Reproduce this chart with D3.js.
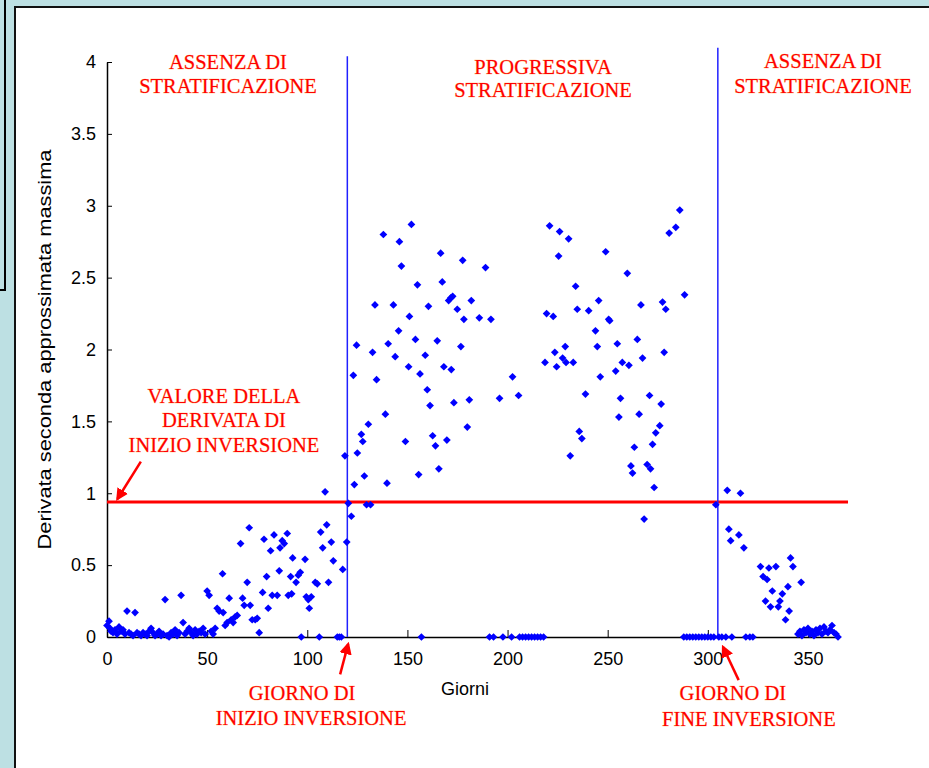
<!DOCTYPE html>
<html>
<head>
<meta charset="utf-8">
<script src="https://cdn.jsdelivr.net/npm/d3@7"></script>
<style>
  body { margin: 0; background: #bde0e3; }
  .axis text { font-family: "Liberation Sans", Arial, sans-serif; font-size: 18px; fill: #000; }
  .axis path, .axis line { stroke: #000; }
  .note { font-family: "Liberation Serif", "Times New Roman", serif; font-size: 20.5px; fill: #ff0000;
          stroke: #ffc080; stroke-width: 0.6px; paint-order: stroke; text-anchor: middle; }
</style>
</head>
<body>
<script>
// Data: day of the year and approximate max second derivative
const days = [
  0, 1, 1.5, 2, 3, 4, 5, 6, 7, 8, 9, 10, 11, 12, 13, 14, 15, 16, 17, 18, 19, 20, 21, 22, 23, 24, 25, 26, 27, 28,
  29, 30, 31, 32, 33, 34, 35, 36, 37, 38, 39, 40, 41, 42, 43, 44, 45, 46, 47, 48, 49, 50, 51, 52, 53, 54,
  55, 56, 57.7, 58, 59, 60, 61, 62, 63, 64, 65, 66.7, 67.7, 68.5, 70, 71, 71.5, 72.5, 74, 75, 76, 77.7, 78.4, 79.7,
  80.5, 81.7, 82.5, 83.4, 85, 86, 86.4, 87.5, 88.5, 90, 90.5, 91.7, 92.2, 92.7, 94.4, 95.5, 96.5, 97, 98.9, 99.5,
  100.5, 101, 102, 104, 105, 106, 106.7, 107.7, 108.9, 109.7, 110.6, 112, 113, 115, 116, 117, 117.7, 118.8, 119.7, 120.5,
  122, 123, 123.5, 124.6, 125, 127, 127.7, 128.5, 129.6, 131.6, 130.5, 132.6, 133.8, 134.6, 138, 139, 139.8, 140.4, 143, 143.9,
  145.6, 146, 147, 149, 150.6, 151, 152, 154, 155, 155.6, 156.3, 157, 158.9, 159.9, 160.5, 161.3, 162.6, 164, 164.9, 165.7,
  166.6, 167.4, 168.2, 169.7, 170.6, 171.7, 171.9, 172.6, 173.2, 174.9, 176.7, 177.6, 178.2, 179.9, 180.9, 181.9, 185.9, 189, 191, 191.7,
  193, 196, 197.7, 202, 202.5, 205.5, 206, 207.5, 209, 210.5, 212, 213.5, 215, 216.5, 218,
  218.7, 219.5, 221, 222.8, 223.6, 224.5, 225.5, 226, 227.5, 228.8, 229.2, 230.5, 231.3, 232.8, 234, 234.8, 235.8, 237.1, 238.9, 240.5,
  243.9, 244.8, 245.5, 246.3, 249, 250.5, 251, 254, 254.8, 255.6, 256.4, 257.3, 259.8, 260.6, 261.6, 262.4, 263.3, 264.8, 265.7, 266.6,
  267.4, 268.2, 269.7, 270.9, 271.4, 272.4, 273.2, 274, 276, 276.7, 277.4, 278.2, 279, 280.7, 284, 286, 288.4,
  288, 289.5, 291, 292.5, 294, 295.5, 297, 298.5, 300, 301.5, 303, 304,
  305.5, 307, 309, 309.7, 310.5, 311.4, 312, 315.5, 316.3, 318, 319, 321, 322.5, 326.3, 327.6, 328.8, 329.6, 330.5, 331.3, 332.2,
  334, 335.2, 336, 337.2, 338.8, 340, 340.6, 341.3, 342.5, 346.6,
  345, 346, 347, 348, 349, 350, 351, 352, 353, 354, 355, 356, 357, 358, 359, 360, 361, 362, 363, 364, 365
];
const values = [
  0.08, 0.11, 0.06, 0.04, 0.03, 0.05, 0.02, 0.07, 0.04, 0.05, 0.02, 0.18, 0.03, 0.02, 0.01, 0.17, 0.03, 0.02, 0.01, 0.03, 0.02, 0.01, 0.04, 0.06, 0.03, 0.01, 0.02, 0.04, 0.01, 0.02,
  0.26, 0.01, 0.0, 0.03, 0.02, 0.05, 0.01, 0.03, 0.29, 0.10, 0.02, 0.04, 0.06, 0.03, 0.01, 0.05, 0.02, 0.04, 0.03, 0.06, 0.02, 0.32, 0.29, 0.04, 0.02, 0.06,
  0.20, 0.18, 0.44, 0.17, 0.08, 0.10, 0.27, 0.12, 0.10, 0.14, 0.15, 0.65, 0.27, 0.22, 0.38, 0.76, 0.22, 0.12, 0.12, 0.13, 0.03, 0.31, 0.68, 0.42,
  0.20, 0.60, 0.29, 0.71, 0.29, 0.46, 0.62, 0.67, 0.65, 0.72, 0.29, 0.42, 0.30, 0.55, 0.38, 0.43, 0.45, 0.0, 0.54, 0.28,
  0.26, 0.20, 0.28, 0.38, 0.37, 0.0, 0.73, 0.62, 1.01, 0.78, 0.38, 0.66, 0.53, 0.0, 0.0, 0.0, 0.47, 1.26, 0.66, 0.93,
  0.84, 1.82, 1.06, 2.03, 1.28, 1.41, 1.36, 1.12, 0.92, 0.92, 1.48, 1.98, 2.31, 1.79, 2.80, 1.55, 1.07, 2.04, 2.31, 1.95,
  2.13, 2.75, 2.58, 1.36, 1.88, 2.23, 2.87, 2.07, 2.45, 1.13, 1.83, 0.0, 1.96, 1.72, 2.30, 1.61, 1.40, 1.33, 2.06, 1.17,
  2.67, 2.47, 1.88, 1.37, 2.34, 2.36, 1.86, 2.37, 1.63, 2.28, 2.02, 2.62, 2.21, 1.46, 1.65, 2.34, 2.22, 2.57, 0.0, 2.21,
  0.0, 1.66, 0.0, 0.0, 1.81, 1.68, 0.0, 0.0, 0.0, 0.0, 0.0, 0.0, 0.0, 0.0, 0.0,
  1.91, 2.25, 2.86, 2.23, 1.98, 1.88, 2.65, 2.82, 1.94, 2.02, 1.91, 2.77, 1.26, 1.91, 2.44, 2.28, 1.43, 1.38, 1.69, 2.27,
  2.13, 2.02, 2.34, 1.81, 2.68, 2.21, 2.20, 1.85, 2.04, 1.53, 1.66, 1.91, 2.53, 1.89, 1.19, 1.14, 1.32, 2.07, 1.55, 2.31,
  1.94, 0.82, 1.20, 1.68, 1.17, 1.34, 1.04, 1.42, 1.47, 1.62, 2.33, 1.98, 2.28, 2.81, 2.85, 2.97, 2.38,
  0.0, 0.0, 0.0, 0.0, 0.0, 0.0, 0.0, 0.0, 0.0, 0.0, 0.0, 0.92,
  0.0, 0.0, 0.0, 1.02, 0.75, 0.67, 0.0, 0.71, 1.00, 0.62, 0.0, 0.0, 0.0, 0.49, 0.42, 0.25, 0.40, 0.48, 0.21, 0.32,
  0.49, 0.21, 0.25, 0.30, 0.12, 0.35, 0.18, 0.55, 0.49, 0.38,
  0.02, 0.04, 0.01, 0.05, 0.03, 0.06, 0.02, 0.04, 0.01, 0.05, 0.03, 0.06, 0.02, 0.07, 0.04, 0.03, 0.05, 0.08, 0.03, 0.02, 0.0
];

const xTicks = [0, 50, 100, 150, 200, 250, 300, 350];
const yTicks = [0, 0.5, 1, 1.5, 2, 2.5, 3, 3.5, 4];

// Inversion markers
const inversionStart = 120;
const inversionEnd = 305;
const threshold = 0.94;

const W = 929, H = 768;

const svg = d3.select('body').append('svg')
  .attr('width', W)
  .attr('height', H)
  .style('display', 'block');

// Background frames (screenshot look)
svg.append('rect').attr('width', W).attr('height', H).attr('fill', '#bde0e3');
svg.append('path').attr('d', 'M5,0V290H0').attr('fill', 'none').attr('stroke', '#000').attr('stroke-width', 2);
svg.append('rect').attr('x', 15).attr('y', 7).attr('width', W).attr('height', H)
  .attr('fill', '#fff').attr('stroke', '#111').attr('stroke-width', 2);

// Scales
const x = d3.scaleLinear().domain([0, 365]).range([107, 838]);
const y = d3.scaleLinear().domain([0, 4]).range([637, 62]);

// Axes, ticks pointing into the plot like in MATLAB
svg.append('g')
  .attr('class', 'axis')
  .attr('transform', 'translate(0,' + y(0) + ')')
  .call(d3.axisBottom(x).tickValues(xTicks).tickSizeInner(-7).tickSizeOuter(0).tickPadding(15))
  .call(g => g.select('.domain').attr('stroke-width', 1.5));

svg.append('g')
  .attr('class', 'axis')
  .attr('transform', 'translate(' + x(0) + ',0)')
  .call(d3.axisLeft(y).tickValues(yTicks).tickFormat(d3.format('')).tickSizeInner(-5).tickSizeOuter(0).tickPadding(11))
  .call(g => g.select('.domain').attr('stroke-width', 1.5));

// Axis titles
svg.append('text')
  .attr('x', 465).attr('y', 695)
  .attr('text-anchor', 'middle')
  .style('font-family', '"Liberation Sans", Arial, sans-serif')
  .style('font-size', '18px')
  .text('Giorni');

svg.append('text')
  .attr('transform', 'translate(51,' + y(2) + ') rotate(-90)')
  .attr('text-anchor', 'middle')
  .attr('textLength', 400)
  .attr('lengthAdjust', 'spacingAndGlyphs')
  .style('font-family', '"Liberation Sans", Arial, sans-serif')
  .style('font-size', '18px')
  .text('Derivata seconda approssimata massima');

// Threshold line and inversion day lines
svg.append('line')
  .attr('x1', x(0)).attr('x2', x(370))
  .attr('y1', y(threshold)).attr('y2', y(threshold))
  .attr('stroke', '#ff0000').attr('stroke-width', 3);

svg.append('line')
  .attr('x1', x(inversionStart)).attr('x2', x(inversionStart))
  .attr('y1', y(0)).attr('y2', y(4.04))
  .attr('stroke', '#2020ff').attr('stroke-width', 1.5);

svg.append('line')
  .attr('x1', x(inversionEnd)).attr('x2', x(inversionEnd))
  .attr('y1', y(0)).attr('y2', y(4.1))
  .attr('stroke', '#2020ff').attr('stroke-width', 1.5);

// Points (diamonds)
const diamond = d3.symbol().type(d3.symbolSquare).size(30);
svg.selectAll('.dot')
  .data(days.map((d, i) => ({ day: d, v: values[i] })))
  .enter().append('path')
  .attr('class', 'dot')
  .attr('d', diamond)
  .attr('transform', d => 'translate(' + x(d.day) + ',' + y(d.v) + ') rotate(45)')
  .attr('fill', '#0000ff');

// Red notes
function note(lines, day, val, lineGap) {
  const t = svg.append('text').attr('class', 'note');
  lines.forEach((s, i) => {
    t.append('tspan')
      .attr('x', x(day[i] !== undefined ? day[i] : day[0]))
      .attr('y', y(val) + i * lineGap)
      .text(s);
  });
}
note(['ASSENZA DI', 'STRATIFICAZIONE'], [60.4], 3.95, 24);
note(['PROGRESSIVA', 'STRATIFICAZIONE'], [217.7], 3.92, 23);
note(['ASSENZA DI', 'STRATIFICAZIONE'], [357.5], 3.96, 25);
note(['VALORE DELLA', 'DERIVATA DI', 'INIZIO INVERSIONE'], [58.4], 1.63, 24.5);
note(['GIORNO DI', 'INIZIO INVERSIONE'], [97.4, 101.9], -0.44, 25);
note(['GIORNO DI', 'FINE INVERSIONE'], [312.5, 320.5], -0.44, 26);

// Arrows
svg.append('defs').append('marker')
  .attr('id', 'head')
  .attr('viewBox', '0 0 10 10')
  .attr('refX', 8).attr('refY', 5)
  .attr('markerWidth', 5).attr('markerHeight', 5)
  .attr('orient', 'auto')
  .append('path')
  .attr('d', 'M0,0L10,5L0,10z')
  .attr('fill', '#ff0000');

const arrows = [
  { from: [16.9, 1.22], to: [5.2, 0.96] },
  { from: [116.4, -0.26], to: [120.4, -0.05] },
  { from: [315.4, -0.30], to: [307.6, -0.07] }
];
svg.selectAll('.arrow')
  .data(arrows)
  .enter().append('line')
  .attr('class', 'arrow')
  .attr('x1', d => x(d.from[0])).attr('y1', d => y(d.from[1]))
  .attr('x2', d => x(d.to[0])).attr('y2', d => y(d.to[1]))
  .attr('stroke', '#ff0000').attr('stroke-width', 2.5)
  .attr('marker-end', 'url(#head)');
</script>
</body>
</html>
